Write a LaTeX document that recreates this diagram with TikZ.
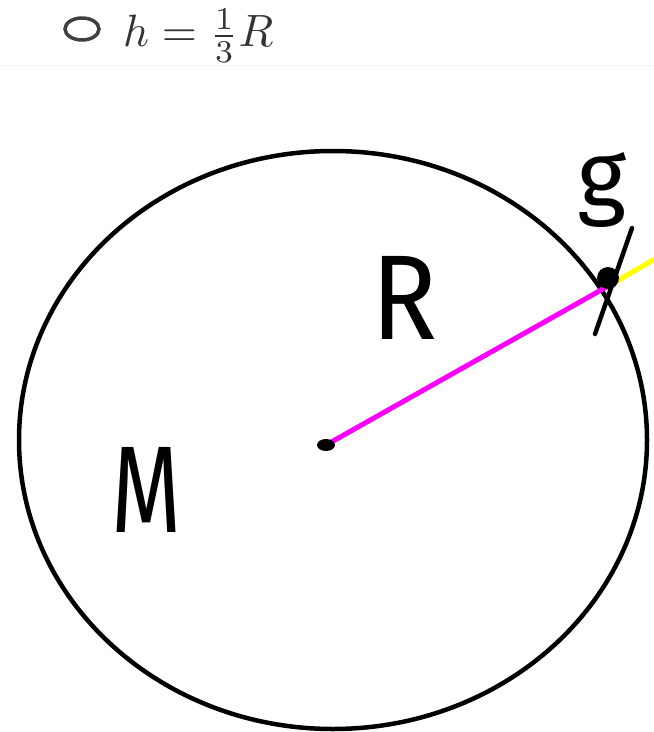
\documentclass[tikz,border=0pt]{standalone}
\usepackage{fontspec}
\usepackage{graphicx}
\newfontfamily\hand{Fira Sans}
\definecolor{mag}{RGB}{255,0,255}
\definecolor{yel}{RGB}{255,255,0}
\begin{document}
\begin{tikzpicture}[x=1bp,y=-1bp,
  hw/.style={font=\hand, inner sep=0pt},
  stroke/.style={line width=4.5bp, line cap=round}]
\useasboundingbox (0,0) rectangle (654,732);
% header
\draw[black!75, line width=3.5bp] (82,29) ellipse [x radius=17, y radius=11];
\node[anchor=base west, inner sep=0pt, text=black!80] (hdr) at (123,47) {\resizebox{150bp}{!}{$h = \frac{1}{3}R$}};
\draw[black!5, line width=1bp] (0,66) -- (654,66);
% circle
\coordinate (C) at (333,440);
\draw[line width=4.5bp] (C) ellipse [x radius=314, y radius=289];
% surface point
\coordinate (P) at (610,285);
\coordinate (Y) at (660,256);
\coordinate (O) at (326,445);
\draw[mag, line width=5bp] (O) -- (P);
\draw[yel, line width=5bp] (P) -- (Y);
\fill[black] (O) ellipse [x radius=9, y radius=6];
\fill[black] (608,278) circle (11);
\draw[stroke] (632,228) -- (595,334);
% labels
\node[hw] (R) at (405,298) {\resizebox{66bp}{83bp}{R}};
\node[hw] (M) at (147,490) {\resizebox{70bp}{85bp}{M}};
\node[hw] (g) at (602,190) {\resizebox*{49bp}{75bp}{g}};
\end{tikzpicture}
\end{document}
